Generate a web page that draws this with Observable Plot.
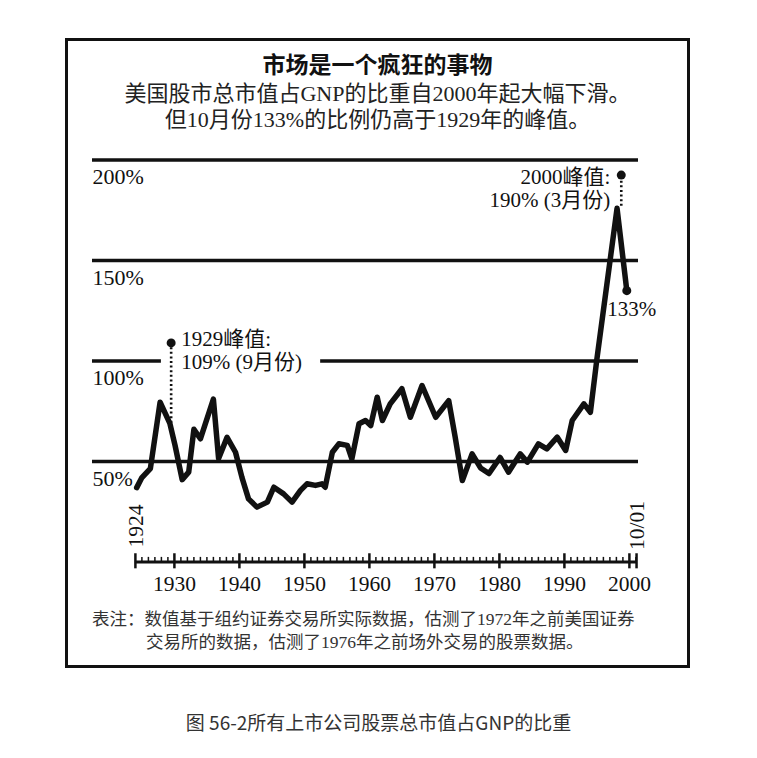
<!DOCTYPE html>
<html>
<head>
<meta charset="utf-8">
<script src="https://cdn.jsdelivr.net/npm/d3@7"></script>
<script src="https://cdn.jsdelivr.net/npm/@observablehq/plot@0.6"></script>
<style>
html, body { margin: 0; padding: 0; background: #fff; }
#wrap { position: relative; width: 757px; height: 758px; overflow: hidden; background: #fff; }
#frame { position: absolute; left: 65px; top: 38px; width: 619px; height: 624px; border: 3px solid #111; pointer-events: none; }
#title { position: absolute; left: 0; width: 755px; top: 52px; text-align: center; font: bold 23px/28px "Liberation Serif", "Noto Sans CJK SC", serif; color: #111; }
#sub { position: absolute; left: 0; width: 755px; top: 81px; text-align: center; font: 22px/26px "Liberation Serif", "Noto Sans CJK SC", serif; color: #222; }
#note { position: absolute; left: 92px; top: 608px; font: 17.5px/23px "Liberation Serif", "Noto Sans CJK SC", serif; color: #333; white-space: nowrap; }
#note .l2 { padding-left: 54px; }
#cap { position: absolute; left: 0; width: 757px; top: 709px; text-align: center; font: 19px/26px "Noto Sans CJK SC", sans-serif; color: #333; }
</style>
</head>
<body>
<div id="wrap">
  <div id="title">市场是一个疯狂的事物</div>
  <div id="sub">美国股市总市值占GNP的比重自2000年起大幅下滑。<br>但10月份133%的比例仍高于1929年的峰值。</div>
  <div id="note"><div>表注：数值基于组约证券交易所实际数据，估测了1972年之前美国证券</div><div class="l2">交易所的数据，估测了1976年之前场外交易的股票数据。</div></div>
  <div id="cap">图 56-2所有上市公司股票总市值占GNP的比重</div>
</div>
<script>
// ---- data ----
const years = [1924.2, 1925.0, 1926.3, 1927.8, 1929.3, 1930.1, 1931.2, 1932.2, 1933.0, 1934.0,
  1936.0, 1936.8, 1938.1, 1939.4, 1940.4, 1941.4, 1942.7, 1944.3, 1945.3, 1946.8,
  1948.1, 1949.4, 1950.4, 1951.7, 1952.7, 1953.2, 1954.3, 1955.3, 1956.6, 1957.3,
  1958.4, 1959.4, 1960.2, 1961.2, 1962.0, 1963.2, 1965.0, 1966.3, 1968.1, 1970.2,
  1972.2, 1973.2, 1974.3, 1975.8, 1977.1, 1978.4, 1980.1, 1981.4, 1983.2, 1984.3,
  1986.0, 1987.3, 1988.9, 1990.2, 1991.2, 1993.0, 1994.0, 1995.0, 1998.1, 1999.6];
const values = [37, 42, 46.5, 79.5, 69, 58, 41, 44.7, 66, 61.3,
  81, 51.5, 62, 54.6, 42, 31.4, 27.3, 29.8, 37.2, 33.9,
  29.8, 35.6, 38.9, 38.1, 38.9, 37.2, 54.6, 58.8, 58, 51.3,
  68.8, 70.4, 67.9, 82, 70.4, 78.7, 86.2, 72, 87.8, 72,
  80.3, 62.1, 40.5, 53.8, 46.8, 44, 52, 44.7, 53.8, 49.7,
  58.8, 56.3, 62.1, 55.5, 70.4, 78.7, 74.5, 101, 176, 135];

const yTicks = [50, 100, 150, 200];
const xTicks = [1930, 1940, 1950, 1960, 1970, 1980, 1990, 2000];
const axisStart = 1924, axisEnd = 2001.1;
const axisStartLabel = "1924", axisEndLabel = "10/01";
const xDomain = [1917.4, 2001.4];
const yDomain = [0, 200];
const brokenGrid = 100, gridGap = [1928.0, 1952.5];
const peaks = [
  {year: 1929.5, value: 109, lineValue: 69, label: "1929峰值:\n109% (9月份)"},
  {year: 1998.75, value: 192.5, lineValue: 177, label: "2000峰值:\n190% (3月份)"}
];
const endLabel = "133%";

// ---- chart ----
const ink = "#111";
const serif = '"Liberation Serif","Noto Sans CJK SC",serif';
const series = years.map((year, i) => ({year, value: values[i]}));
const last = series[series.length - 1];
const minorYears = d3.range(axisStart + 1, Math.floor(axisEnd) + 1).filter(y => !xTicks.includes(y));
const gridSegments = [{x1: xDomain[0], x2: gridGap[0]}, {x1: gridGap[1], x2: xDomain[1]}];

const chart = Plot.plot({
  width: 757, height: 600,
  marginLeft: 92, marginRight: 119, marginTop: 0, marginBottom: 0,
  x: {domain: xDomain, range: [92, 638], axis: null},
  y: {domain: yDomain, range: [561.5, 159.5], axis: null},
  style: {background: "transparent", overflow: "visible"},
  marks: [
    Plot.ruleY(yTicks.filter(v => v !== brokenGrid), {y: d => d, stroke: ink, strokeWidth: 3.5}),
    Plot.ruleY(gridSegments, {y: () => brokenGrid, x1: "x1", x2: "x2", stroke: ink, strokeWidth: 3.5}),
    Plot.text(yTicks, {y: d => d, text: d => d + "%", frameAnchor: "left", textAnchor: "start", dy: 17,
      fontSize: 22, fontFamily: serif, fill: ink}),
    // axis
    Plot.ruleY([0], {y: d => d, x1: () => axisStart, x2: () => axisEnd, stroke: ink, strokeWidth: 3}),
    Plot.ruleX([axisStart, ...xTicks, axisEnd], {x: d => d, y1: () => -3.4, y2: () => 4.1, stroke: ink, strokeWidth: 2.5}),
    Plot.ruleX(minorYears, {x: d => d, y1: () => 0, y2: () => 2.3, stroke: ink, strokeWidth: 1.5}),
    Plot.text(xTicks, {x: d => d, y: () => 0, dy: 22.5, text: d => String(d), fontSize: 21.5, fontFamily: serif, fill: ink}),
    Plot.text([axisStart], {x: d => d, y: () => 0, text: () => axisStartLabel, rotate: -90, textAnchor: "start",
      dy: -14.5, dx: 1, fontSize: 21.5, fontFamily: serif, fill: ink}),
    Plot.text([axisEnd], {x: d => d, y: () => 0, text: () => axisEndLabel, rotate: -90, textAnchor: "start",
      dy: -12, dx: 1, fontSize: 21.5, fontFamily: serif, fill: ink}),
    // series
    Plot.line(series, {x: "year", y: "value", stroke: ink, strokeWidth: 5.5, strokeLinejoin: "round", strokeLinecap: "round"}),
    // annotations
    Plot.ruleX(peaks, {x: "year", y1: "lineValue", y2: "value", stroke: ink, strokeWidth: 2.6, strokeDasharray: "2,2.6"}),
    Plot.dot([...peaks, last], {x: "year", y: "value", r: 4.5, fill: ink, stroke: "none"}),
    Plot.text([peaks[0]], {x: "year", y: "value", text: "label", textAnchor: "start", lineAnchor: "top",
      dx: 10, dy: -12.6, lineHeight: 1.07, fontSize: 21, fontFamily: serif, fill: ink}),
    Plot.text([peaks[1]], {x: "year", y: "value", text: "label", textAnchor: "end", lineAnchor: "top",
      dx: -11, dy: -6.6, lineHeight: 1.07, fontSize: 21, fontFamily: serif, fill: ink}),
    Plot.text([last], {x: "year", y: "value", text: () => endLabel, textAnchor: "middle", lineAnchor: "top",
      dx: 5, dy: 10, fontSize: 21, fontFamily: serif, fill: ink})
  ]
});
chart.style.position = "absolute";
chart.style.left = "0px";
chart.style.top = "0px";
const wrap = document.getElementById("wrap");
wrap.insertBefore(chart, wrap.firstChild);
const frame = document.createElement("div");
frame.id = "frame";
wrap.appendChild(frame);
</script>
</body>
</html>
